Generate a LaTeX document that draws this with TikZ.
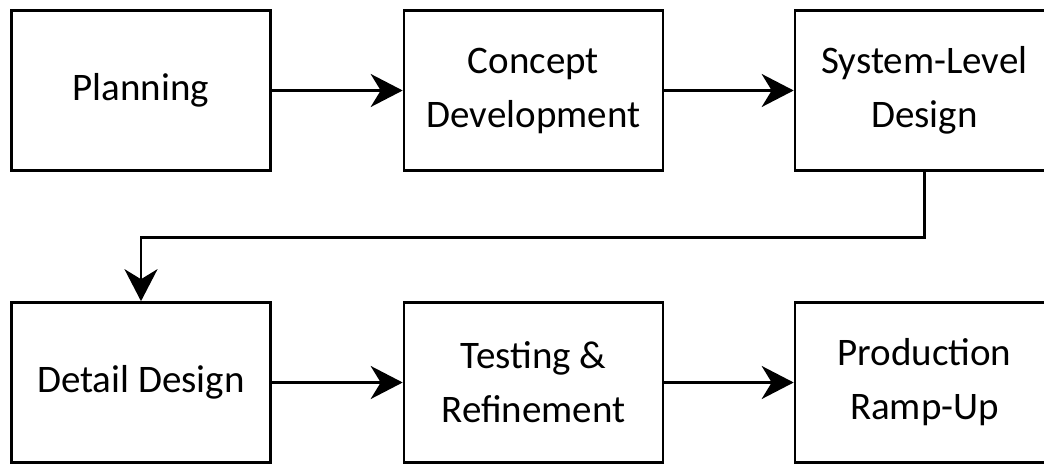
\documentclass[tikz,border=0pt]{standalone}
\usepackage{fontspec}
\usepackage{tikz}
\usetikzlibrary{arrows.meta}
\newfontfamily\carlito{Carlito}
\newcommand{\stagefont}{\carlito\fontsize{39}{54}\selectfont}

\begin{document}
\begin{tikzpicture}[
	x=1pt, y=-1pt,
  > = {Stealth[length=32pt,width=33pt,inset=10pt]},
  stage/.style = {draw, line width=2.6pt, minimum width=259pt, minimum height=160pt, inner sep=0pt, align=center, font=\stagefont},
  flow/.style = {->, line width=2.8pt}
  ]
	\useasboundingbox (0,0) rectangle (1044,465);
	\clip (0,0) rectangle (1044,465);

	\node[stage] (plan) at (141,90.5) {Planning};
	\node[stage] (concept) at (533.5,90.5) {Concept\\Development};
	\node[stage] (system) at (924.5,90.5) {System-Level\\Design};

	\node[stage] (detail) at (141,382.5) {Detail Design};
	\node[stage] (test) at (533.5,382.5) {Testing \&\\Refinement};
	\node[stage] (ramp) at (924.5,382.5) {Production\\Ramp-Up};

  	\draw[flow] (plan) -- (concept);
  	\draw[flow] (concept) -- (system);
  	\draw[flow] (system.south) -- ++(0,66) -| (detail.north);
  	\draw[flow] (detail) -- (test);
  	\draw[flow] (test) -- (ramp);

\end{tikzpicture}
\end{document}
